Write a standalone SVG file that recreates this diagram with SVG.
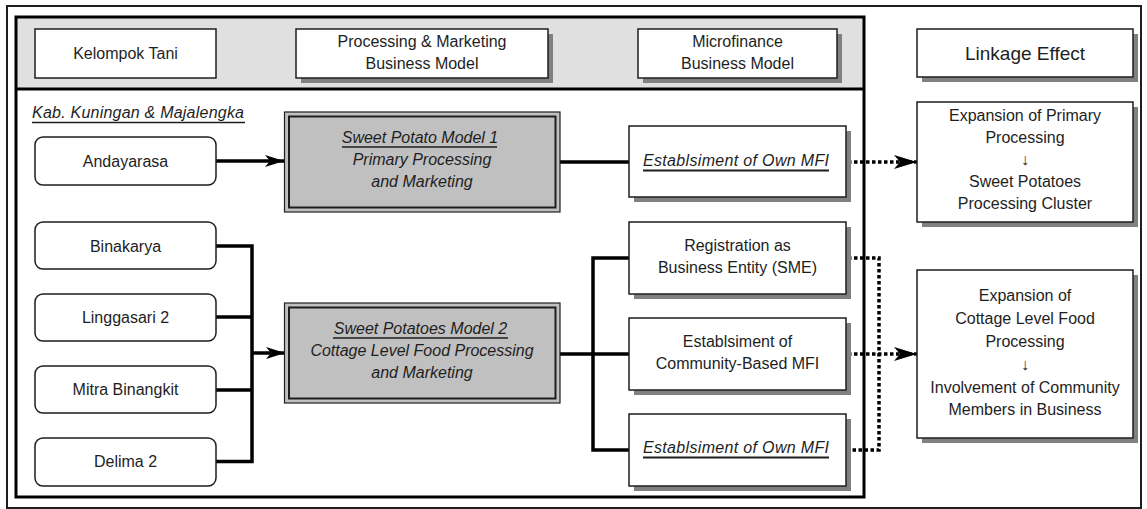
<svg xmlns="http://www.w3.org/2000/svg" width="1147" height="509" viewBox="0 0 1147 509">
  <defs>
    <style>
      text { font-family: "Liberation Sans", Arial, sans-serif; font-size: 16px; fill: #1e1e1e; text-anchor: middle; }
      .it { font-style: italic; }
      .box { fill: #ffffff; stroke: #1e1e1e; stroke-width: 1.5; }
      .shadow { fill: #808080; stroke: none; }
      .model { fill: #c0c0c0; stroke: #1e1e1e; stroke-width: 1.2; }
      .model-in { fill: none; stroke: #1e1e1e; stroke-width: 2; }
      .uline { stroke: #1e1e1e; stroke-width: 1.6; }
      .solid { fill: none; stroke: #000000; stroke-width: 3.5; }
      .dotted { fill: none; stroke: #000000; stroke-width: 3.5; stroke-dasharray: 3.5 2.5; }
    </style>
    <marker id="arrow" markerUnits="userSpaceOnUse" markerWidth="20" markerHeight="14" viewBox="0 0 20 14" refX="19" refY="7" orient="auto">
      <path d="M0,1 L19,7 L0,13 L5,7 Z" fill="#000000"/>
    </marker>
    <marker id="arrow-dot" markerUnits="userSpaceOnUse" markerWidth="24" markerHeight="16" viewBox="0 0 24 16" refX="23" refY="8" orient="auto">
      <path d="M0,1 L23,8 L0,15 L6,8 Z" fill="#000000"/>
    </marker>
  </defs>

  <rect width="1147" height="509" fill="#ffffff"/>

  <!-- outer and inner frames -->
  <g id="frame">
    <rect x="7" y="6" width="1134" height="502" fill="none" stroke="#1e1e1e" stroke-width="2"/>
    <rect x="16" y="17" width="848" height="72" fill="#e0e0e0"/>
    <rect x="16" y="17" width="848" height="480" fill="none" stroke="#000000" stroke-width="3"/>
    <line x1="16" y1="89" x2="864" y2="89" stroke="#000000" stroke-width="3"/>
  </g>

  <!-- connectors -->
  <g id="connectors">
    <path class="solid" d="M216,161 L284,161" marker-end="url(#arrow)"/>
    <path class="solid" d="M216,246 H252 M216,317 H252 M216,390 H252 M216,461.5 H252 M252,244.3 V463.2"/>
    <path class="solid" d="M252,353 L285,353" marker-end="url(#arrow)"/>
    <path class="solid" d="M560,162 L629,162"/>
    <path class="solid" d="M560,354 H593 M593,256.3 V451.7 M593,258 H629 M593,354 H629 M593,450 H629"/>
    <path class="dotted" d="M848,162 L917,162" marker-end="url(#arrow-dot)"/>
    <path class="dotted" d="M848,258 H879 V450 H848"/>
    <path class="dotted" d="M848,354 L917,354" marker-end="url(#arrow-dot)"/>
  </g>

  <!-- header row -->
  <g id="hdr-kelompok">
    <rect class="box" x="35" y="29" width="181" height="49"/>
    <text x="125.5" y="59">Kelompok Tani</text>
  </g>
  <g id="hdr-processing">
    <rect class="shadow" x="301" y="34" width="252" height="49"/>
    <rect class="box" x="296" y="29" width="252" height="49"/>
    <text x="422" y="47">Processing &amp; Marketing</text>
    <text x="422" y="69">Business Model</text>
  </g>
  <g id="hdr-microfinance">
    <rect class="shadow" x="643" y="34" width="199" height="49"/>
    <rect class="box" x="638" y="29" width="199" height="49"/>
    <text x="737.5" y="47">Microfinance</text>
    <text x="737.5" y="69">Business Model</text>
  </g>
  <g id="hdr-linkage">
    <rect class="shadow" x="922" y="34" width="216" height="48"/>
    <rect class="box" x="917" y="29" width="216" height="48"/>
    <text x="1025" y="60" style="font-size:19px">Linkage Effect</text>
  </g>

  <!-- region label -->
  <g id="region">
    <text class="it" x="32" y="118" style="text-anchor:start" textLength="212" lengthAdjust="spacing">Kab. Kuningan &amp; Majalengka</text>
    <line class="uline" x1="32" y1="122.5" x2="245" y2="122.5"/>
  </g>

  <!-- farmer groups -->
  <g id="andayarasa">
    <rect class="box" x="35" y="137" width="181" height="48" rx="8"/>
    <text x="125.5" y="166.5">Andayarasa</text>
  </g>
  <g id="binakarya">
    <rect class="box" x="35" y="222" width="181" height="47" rx="8"/>
    <text x="125.5" y="251.5">Binakarya</text>
  </g>
  <g id="linggasari">
    <rect class="box" x="35" y="294" width="181" height="47" rx="8"/>
    <text x="125.5" y="323">Linggasari 2</text>
  </g>
  <g id="mitra">
    <rect class="box" x="35" y="366" width="181" height="47" rx="8"/>
    <text x="125.5" y="395">Mitra Binangkit</text>
  </g>
  <g id="delima">
    <rect class="box" x="35" y="438" width="181" height="48" rx="8"/>
    <text x="125.5" y="467">Delima 2</text>
  </g>

  <!-- processing and marketing models -->
  <g id="model-1">
    <rect class="model" x="284.5" y="112" width="275.5" height="100"/>
    <rect class="model-in" x="289" y="116.5" width="266.5" height="91"/>
    <text class="it" x="420" y="143">Sweet Potato Model 1</text>
    <line class="uline" x1="342" y1="147" x2="497" y2="147"/>
    <text class="it" x="422" y="165">Primary Processing</text>
    <text class="it" x="422" y="187">and Marketing</text>
  </g>
  <g id="model-2">
    <rect class="model" x="284.5" y="303" width="275.5" height="100"/>
    <rect class="model-in" x="289" y="307.5" width="266.5" height="91"/>
    <text class="it" x="420.5" y="334">Sweet Potatoes Model 2</text>
    <line class="uline" x1="333" y1="338" x2="508" y2="338"/>
    <text class="it" x="422" y="356">Cottage Level Food Processing</text>
    <text class="it" x="422" y="378">and Marketing</text>
  </g>

  <!-- microfinance models -->
  <g id="mfi-own-1">
    <rect class="shadow" x="634" y="131" width="217" height="71"/>
    <rect class="box" x="629" y="126" width="217" height="71"/>
    <text class="it" x="736" y="166" textLength="186" lengthAdjust="spacing">Establsiment of Own MFI</text>
    <line class="uline" x1="643" y1="170.5" x2="829" y2="170.5" style="stroke-width:2"/>
  </g>
  <g id="mfi-sme">
    <rect class="shadow" x="634" y="227" width="217" height="72"/>
    <rect class="box" x="629" y="222" width="217" height="72"/>
    <text x="737.5" y="251">Registration as</text>
    <text x="737.5" y="273">Business Entity (SME)</text>
  </g>
  <g id="mfi-community">
    <rect class="shadow" x="634" y="323" width="217" height="72"/>
    <rect class="box" x="629" y="318" width="217" height="72"/>
    <text x="737.5" y="347">Establsiment of</text>
    <text x="737.5" y="369">Community-Based MFI</text>
  </g>
  <g id="mfi-own-2">
    <rect class="shadow" x="634" y="419" width="217" height="72"/>
    <rect class="box" x="629" y="414" width="217" height="72"/>
    <text class="it" x="736" y="453" textLength="186" lengthAdjust="spacing">Establsiment of Own MFI</text>
    <line class="uline" x1="643" y1="457.5" x2="829" y2="457.5" style="stroke-width:2"/>
  </g>

  <!-- linkage effects -->
  <g id="effect-primary">
    <rect class="shadow" x="922" y="107" width="216" height="120"/>
    <rect class="box" x="917" y="102" width="216" height="120"/>
    <text x="1025" y="121">Expansion of Primary</text>
    <text x="1025" y="143">Processing</text>
    <text x="1025" y="165">↓</text>
    <text x="1025" y="187">Sweet Potatoes</text>
    <text x="1025" y="209">Processing Cluster</text>
  </g>
  <g id="effect-cottage">
    <rect class="shadow" x="922" y="275" width="216" height="168"/>
    <rect class="box" x="917" y="270" width="216" height="168"/>
    <text x="1025" y="301">Expansion of</text>
    <text x="1025" y="324">Cottage Level Food</text>
    <text x="1025" y="347">Processing</text>
    <text x="1025" y="370">↓</text>
    <text x="1025" y="393">Involvement of Community</text>
    <text x="1025" y="415">Members in Business</text>
  </g>
</svg>
